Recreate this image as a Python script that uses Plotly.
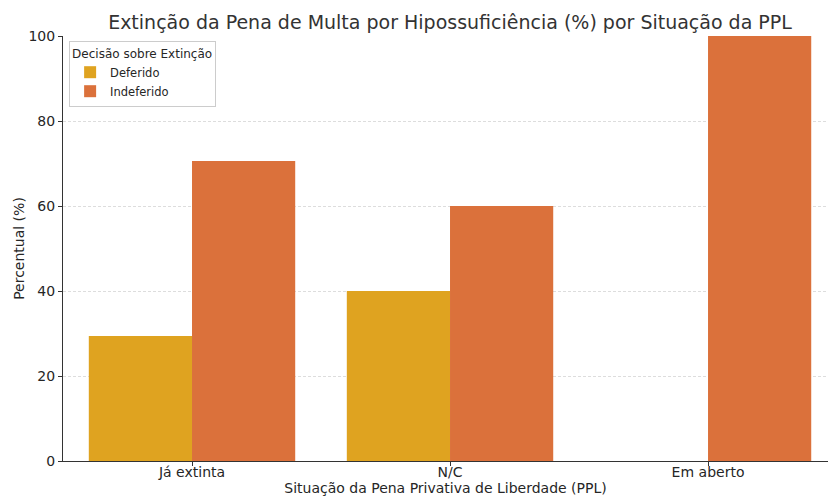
import plotly.graph_objects as go

categorias = ["Já extinta", "N/C", "Em aberto"]
deferido = [29.4, 40.0, 0.0]
indeferido = [70.6, 60.0, 100.0]
y_ticks = [0, 20, 40, 60, 80, 100]

FONT = "DejaVu Sans"

fig = go.Figure()
fig.add_trace(go.Bar(x=categorias, y=deferido, name="Deferido",
                     marker=dict(color="#DFA320", line=dict(width=0))))
fig.add_trace(go.Bar(x=categorias, y=indeferido, name="Indeferido",
                     marker=dict(color="#DB713B", line=dict(width=0))))

fig.update_layout(
    width=828, height=496,
    barmode="group", bargap=0.2, bargroupgap=0,
    plot_bgcolor="white", paper_bgcolor="white",
    font=dict(family=FONT, size=14, color="#262626"),
    margin=dict(l=63, r=0, t=36, b=35, autoexpand=False),
    title=dict(text="Extinção da Pena de Multa por Hipossuficiência (%) por Situação da PPL",
               x=450/828, xref="container", xanchor="center",
               y=1-22/496, yref="container", yanchor="middle",
               font=dict(size=19, color="#333333")),
    legend=dict(x=0.008, y=0.988, xanchor="left", yanchor="top",
                bgcolor="white", bordercolor="#cccccc", borderwidth=1,
                font=dict(size=11.5), title=dict(text="Decisão sobre Extinção", font=dict(size=12)),
                itemsizing="constant", tracegroupgap=0),
    showlegend=True,
)
fig.update_xaxes(range=[-0.5, 2.465], showline=True, linecolor="#333333", linewidth=1,
                 ticks="outside", ticklen=4, tickcolor="#333333", automargin=False,
                 showgrid=False, ticklabelstandoff=-6,
                 title=dict(text="Situação da Pena Privativa de Liberdade (PPL)", standoff=8,
                            font=dict(size=14)))
fig.update_yaxes(range=[0, 100], tickvals=y_ticks, showline=True, linecolor="#333333", linewidth=1,
                 ticks="outside", ticklen=4, tickcolor="#333333", automargin=False,
                 showgrid=True, gridcolor="#dddddd", griddash="3px,2px", gridwidth=0.8,
                 zeroline=False,
                 title=dict(text="Percentual (%)", standoff=0, font=dict(size=14)))

post = ("document.body.style.margin='0';document.body.style.overflow='hidden';"
        "Plotly.relayout(document.getElementById('{plot_id}'),{width:828,height:496});")
fig.write_html("out.html", post_script=post, config={"responsive": False, "displayModeBar": False})
